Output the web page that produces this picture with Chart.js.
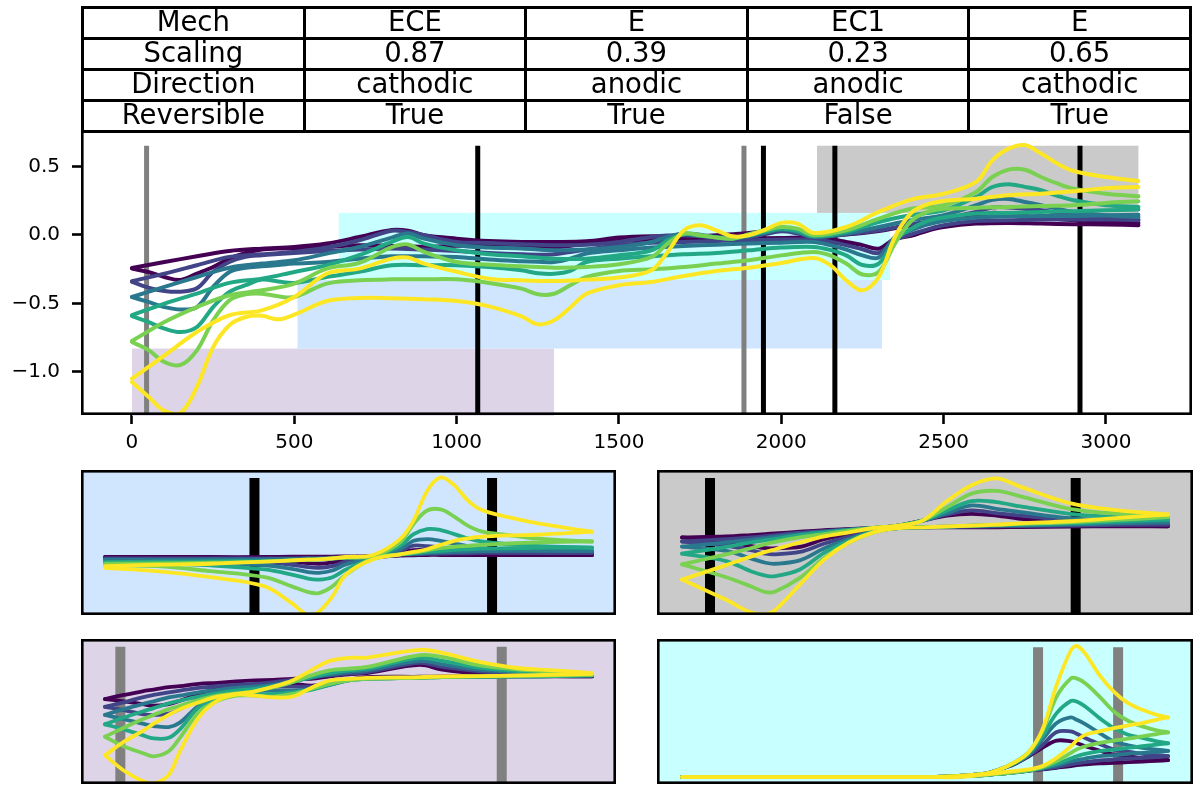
<!DOCTYPE html>
<html>
<head>
<meta charset="utf-8">
<title>Voltammograms</title>
<script src="https://cdn.jsdelivr.net/npm/chart.js@4/dist/chart.umd.min.js"></script>
<style>
    html, body { margin: 0; padding: 0; background: #fff; width: 1200px; height: 800px; overflow: hidden; }
    canvas { position: absolute; display: block; }
    #mechTable {
        position: absolute; left: 81px; top: 6px; width: 1111px; height: 125px;
        border-collapse: collapse; table-layout: fixed;
        font-family: "DejaVu Sans"; font-size: 27.5px; color: #000;
    }
    #mechTable td { border: 3px solid #000; text-align: center; padding: 0 0 3px 0; height: 25px; line-height: 25px; overflow: hidden; }
</style>
</head>
<body>
<canvas id="mainChart" width="1200" height="350" style="left:0;top:120px"></canvas>
<table id="mechTable"></table>
<canvas id="blueChart" width="535" height="145" style="left:81px;top:470px"></canvas>
<canvas id="grayChart" width="536" height="145" style="left:657px;top:470px"></canvas>
<canvas id="purpleChart" width="535" height="145" style="left:81px;top:639px"></canvas>
<canvas id="cyanChart" width="536" height="145" style="left:657px;top:639px"></canvas>
<script>
// table
const tableRows = [
    ['Mech', 'ECE', 'E', 'EC1', 'E'],
    ['Scaling', '0.87', '0.39', '0.23', '0.65'],
    ['Direction', 'cathodic', 'anodic', 'anodic', 'cathodic'],
    ['Reversible', 'True', 'True', 'False', 'True']
];

// one colour per scan rate
const seriesColors = ['#440154', '#414487', '#2a788e', '#22a884', '#7ad151', '#fde725'];

const xTicks = [0, 500, 1000, 1500, 2000, 2500, 3000];
const xTickLabels = ['0', '500', '1000', '1500', '2000', '2500', '3000'];
const yTicks = [-1, -0.5, 0, 0.5];
const yTickLabels = ['\u22121.0', '\u22120.5', '0.0', '0.5'];

// main plot, outward and return branch of each scan rate
const mainUpX = [0,100,200,300,400,500,600,700,800,850,900,1000,1100,1200,1300,1400,1500,1600,1650,1700,1750,1800,1850,1900,1950,2000,2050,2100,2200,2300,2400,2500,2600,2650,2700,2750,2800,2850,2900,3000,3100];
const mainLowX = [0,50,100,150,200,250,300,350,400,450,500,600,700,800,900,1000,1100,1200,1250,1300,1350,1400,1500,1600,1700,1800,1900,2000,2100,2150,2200,2250,2300,2350,2400,2450,2500,2600,2700,2800,2900,3000,3100];
const mainUp = [
    [-.242,-.198,-.157,-.118,-.101,-.089,-.064,-.016,.035,.03,-.003,-.028,-.045,-.052,-.052,-.047,-.02,-.01,-.012,-.016,-.01,-.003,.005,.014,.026,.038,.025,-.01,.002,.028,.07,.106,.135,.16,.15,.14,.126,.115,.106,.094,.087],
    [-.339,-.283,-.222,-.161,-.142,-.125,-.093,-.04,.03,.02,-.003,-.052,-.06,-.069,-.076,-.072,-.052,-.016,-.005,-.003,-.01,-.02,-.02,-.016,.005,.026,.01,-.016,.004,.033,.077,.118,.167,.2,.2,.19,.179,.16,.143,.118,.106],
    [-.454,-.38,-.308,-.24,-.21,-.186,-.137,-.089,-.02,.009,-.028,-.076,-.093,-.1,-.113,-.108,-.089,-.052,-.015,.009,0,-.016,-.02,-.01,.015,.038,.02,-.016,.009,.057,.106,.143,.216,.255,.262,.24,.216,.19,.167,.143,.13],
    [-.587,-.502,-.429,-.351,-.32,-.271,-.222,-.149,-.052,-.016,-.064,-.113,-.142,-.157,-.174,-.174,-.149,-.113,-.04,.004,-.006,-.02,-.028,-.003,.022,.045,.03,-.01,.02,.094,.143,.179,.276,.349,.369,.35,.325,.285,.252,.216,.203],
    [-.775,-.636,-.527,-.441,-.405,-.356,-.247,-.205,-.09,-.07,-.125,-.198,-.218,-.23,-.24,-.235,-.215,-.162,-.064,.009,-.003,-.02,-.028,.004,.033,.057,.045,-.003,.033,.118,.19,.216,.313,.422,.476,.475,.422,.375,.337,.30,.281],
    [-1.05,-.88,-.709,-.587,-.551,-.454,-.283,-.247,-.174,-.166,-.21,-.27,-.32,-.332,-.337,-.327,-.312,-.259,-.125,.033,.07,.033,-.011,-.003,.038,.087,.082,.014,.057,.167,.257,.30,.386,.544,.629,.655,.593,.52,.466,.422,.393]
];
const mainLow = [
    [-.247,-.271,-.308,-.33,-.283,-.235,-.174,-.132,-.108,-.1,-.1,-.089,-.076,-.081,-.087,-.08,-.076,-.089,-.092,-.093,-.08,-.064,-.045,-.035,-.035,-.033,-.028,-.023,-.02,-.03,-.052,-.075,-.101,-.03,-.008,.03,.057,.082,.087,.082,.078,.075,.07],
    [-.344,-.385,-.41,-.415,-.39,-.27,-.198,-.161,-.149,-.14,-.132,-.118,-.108,-.1,-.108,-.118,-.132,-.142,-.145,-.142,-.125,-.108,-.076,-.057,-.052,-.045,-.04,-.035,-.035,-.05,-.076,-.105,-.132,-.04,.004,.04,.07,.101,.106,.111,.111,.111,.111],
    [-.454,-.49,-.527,-.545,-.527,-.38,-.271,-.24,-.23,-.22,-.21,-.198,-.174,-.157,-.157,-.161,-.181,-.193,-.197,-.198,-.174,-.137,-.113,-.093,-.081,-.072,-.064,-.057,-.052,-.075,-.108,-.15,-.165,-.016,.033,.075,.101,.126,.135,.138,.138,.143,.147],
    [-.594,-.636,-.685,-.71,-.673,-.527,-.417,-.368,-.327,-.34,-.351,-.308,-.27,-.222,-.222,-.222,-.235,-.259,-.28,-.285,-.264,-.198,-.174,-.157,-.142,-.132,-.113,-.093,-.088,-.11,-.15,-.22,-.21,-.04,.045,.1,.126,.155,.16,.167,.172,.179,.184],
    [-.782,-.84,-.928,-.95,-.843,-.624,-.478,-.434,-.43,-.449,-.454,-.356,-.332,-.325,-.325,-.325,-.351,-.393,-.434,-.43,-.368,-.308,-.264,-.252,-.235,-.21,-.186,-.15,-.125,-.15,-.21,-.29,-.271,-.064,.101,.167,.19,.198,.203,.21,.216,.233,.245],
    [-1.074,-1.18,-1.285,-1.3,-1.11,-.82,-.66,-.60,-.59,-.617,-.583,-.483,-.461,-.463,-.47,-.483,-.522,-.595,-.653,-.624,-.53,-.43,-.368,-.344,-.30,-.264,-.24,-.205,-.169,-.22,-.332,-.405,-.308,-.016,.16,.223,.247,.264,.289,.30,.318,.34,.349]
];

// shaded windows on the main plot
const bandColors = ['#ddd4e8', '#d0e6ff', '#c8ffff', '#cacaca'];
const bandXStart = [0, 510, 637, 2110];
const bandXEnd = [1300, 2310, 2335, 3100];
const bandYLow = [-1.32, -0.83, -0.33, 0.16];
const bandYHigh = [-0.83, -0.33, 0.16, 0.65];

const mainBlackLines = [1065, 1945, 2165, 2920];
const mainGreyLines = [45, 1885];

// lower left panels and right panels, normalised current
const blueX = [510,700,900,1100,1200,1260,1300,1350,1400,1500,1600,1650,1700,1750,1800,1850,1900,2000,2100,2200,2310];
const blueUp = [
    [1.72,1.72,1.72,1.72,1.73,1.73,1.73,1.73,1.74,1.75,1.86,1.92,1.94,1.90,1.86,1.82,1.80,1.79,1.78,1.78,1.78],
    [1.68,1.68,1.68,1.68,1.68,1.69,1.69,1.70,1.71,1.73,1.90,2.06,2.04,2.00,1.94,1.90,1.87,1.85,1.84,1.84,1.84],
    [1.64,1.64,1.65,1.65,1.66,1.66,1.67,1.68,1.70,1.73,1.95,2.20,2.25,2.20,2.12,2.04,1.98,1.94,1.92,1.91,1.90],
    [1.57,1.58,1.59,1.60,1.62,1.64,1.65,1.68,1.70,1.74,2.05,2.40,2.55,2.52,2.40,2.27,2.18,2.10,2.05,2.02,2.00],
    [1.52,1.53,1.55,1.58,1.62,1.64,1.65,1.68,1.70,1.75,2.15,2.70,3.10,3.13,2.92,2.65,2.48,2.37,2.27,2.22,2.18],
    [1.45,1.49,1.52,1.58,1.62,1.64,1.65,1.68,1.72,1.78,2.25,2.80,3.68,4.08,3.85,3.40,3.12,2.90,2.73,2.60,2.47]
];
const blueLow = [
    [1.72,1.70,1.67,1.63,1.58,1.54,1.52,1.56,1.65,1.72,1.76,1.77,1.78,1.78,1.78,1.78,1.78,1.78,1.78,1.78,1.78],
    [1.67,1.65,1.62,1.56,1.49,1.42,1.40,1.45,1.58,1.70,1.78,1.80,1.81,1.82,1.83,1.83,1.84,1.84,1.84,1.84,1.84],
    [1.62,1.60,1.55,1.47,1.37,1.27,1.25,1.32,1.50,1.68,1.80,1.82,1.84,1.86,1.87,1.88,1.89,1.90,1.90,1.90,1.90],
    [1.55,1.53,1.47,1.35,1.20,1.08,1.05,1.12,1.35,1.68,1.80,1.83,1.87,1.90,1.93,1.95,1.97,1.98,1.99,2.00,2.00],
    [1.47,1.45,1.30,1.12,.85,.68,.65,.85,1.20,1.68,1.80,1.85,1.92,1.98,2.02,2.05,2.08,2.12,2.15,2.17,2.18],
    [1.40,1.30,1.12,.85,.35,-.01,.10,.55,1.20,1.65,1.80,1.87,1.95,2.08,2.20,2.27,2.32,2.36,2.38,2.42,2.47]
];

const grayX = [2110,2200,2250,2280,2300,2350,2400,2450,2500,2550,2600,2650,2700,2750,2800,2900,3000,3100];
const grayUp = [
    [2.30,2.33,2.37,2.40,2.42,2.47,2.52,2.55,2.58,2.65,2.80,2.95,3.00,2.95,2.85,2.72,2.65,2.63],
    [2.18,2.25,2.30,2.34,2.37,2.44,2.49,2.54,2.58,2.65,2.80,2.98,3.10,3.02,2.95,2.80,2.73,2.68],
    [2.03,2.15,2.23,2.28,2.32,2.40,2.47,2.53,2.58,2.65,2.80,3.02,3.25,3.15,3.05,2.87,2.80,2.75],
    [1.82,2.02,2.15,2.22,2.25,2.37,2.45,2.52,2.58,2.65,2.80,3.10,3.38,3.35,3.22,3.00,2.90,2.83],
    [1.50,1.80,1.98,2.10,2.17,2.30,2.40,2.50,2.58,2.65,2.80,3.20,3.60,3.68,3.52,3.15,3.00,2.90],
    [1.05,1.48,1.73,1.87,1.95,2.15,2.33,2.45,2.58,2.65,2.80,3.38,3.85,4.05,3.80,3.32,3.10,2.98]
];
const grayLow = [
    [2.30,2.15,2.05,1.98,1.98,2.02,2.25,2.40,2.52,2.58,2.60,2.60,2.60,2.60,2.61,2.62,2.63,2.63],
    [2.18,2.05,1.92,1.82,1.80,1.87,2.12,2.32,2.50,2.58,2.60,2.61,2.62,2.63,2.64,2.65,2.67,2.68],
    [2.03,1.90,1.68,1.55,1.52,1.62,1.98,2.25,2.48,2.58,2.60,2.62,2.64,2.65,2.66,2.68,2.72,2.75],
    [1.82,1.60,1.30,1.17,1.15,1.35,1.85,2.20,2.47,2.58,2.60,2.62,2.65,2.67,2.68,2.72,2.77,2.83],
    [1.50,1.12,.85,.68,.70,1.10,1.70,2.15,2.45,2.58,2.60,2.62,2.65,2.67,2.70,2.75,2.82,2.90],
    [1.05,.45,.08,.02,.15,.90,1.65,2.15,2.45,2.58,2.60,2.63,2.65,2.68,2.72,2.78,2.88,2.98]
];

const purpleX = [0,50,100,130,170,200,250,300,350,400,450,500,550,600,650,700,840,900,1000,1100,1200,1300];
const purpleUp = [
    [2.52,2.64,2.75,2.80,2.87,2.90,2.97,3.00,3.04,3.07,3.09,3.12,3.12,3.19,3.25,3.29,3.53,3.39,3.27,3.22,3.20,3.19],
    [2.29,2.42,2.57,2.64,2.72,2.77,2.85,2.90,2.94,2.97,3.02,3.09,3.17,3.22,3.27,3.32,3.59,3.47,3.34,3.27,3.24,3.22],
    [2.05,2.22,2.37,2.45,2.57,2.62,2.72,2.79,2.85,2.89,2.95,3.05,3.15,3.25,3.32,3.37,3.65,3.55,3.39,3.32,3.27,3.22],
    [1.77,1.97,2.15,2.25,2.39,2.47,2.59,2.69,2.77,2.82,2.90,3.02,3.17,3.29,3.37,3.42,3.74,3.65,3.45,3.35,3.29,3.22],
    [1.40,1.67,1.92,2.05,2.22,2.32,2.49,2.62,2.69,2.75,2.87,3.02,3.22,3.37,3.42,3.47,3.82,3.77,3.52,3.40,3.32,3.24],
    [.85,1.25,1.57,1.79,2.05,2.22,2.42,2.59,2.67,2.75,2.89,3.07,3.37,3.65,3.74,3.75,3.98,3.89,3.62,3.44,3.37,3.29]
];
const purpleLow = [
    [2.52,2.45,2.37,2.32,2.37,2.47,2.67,2.82,2.89,2.94,2.97,2.97,2.92,2.97,3.09,3.17,3.18,3.19,3.19,3.19,3.19,3.19],
    [2.29,2.19,2.07,2.04,2.09,2.22,2.52,2.72,2.82,2.87,2.89,2.89,2.89,2.97,3.09,3.15,3.17,3.17,3.18,3.19,3.20,3.22],
    [2.05,1.92,1.79,1.72,1.69,1.82,2.32,2.57,2.70,2.75,2.77,2.77,2.82,2.94,3.07,3.12,3.15,3.17,3.18,3.19,3.20,3.22],
    [1.77,1.62,1.45,1.35,1.37,1.62,2.27,2.52,2.65,2.65,2.67,2.72,2.79,2.94,3.07,3.12,3.15,3.17,3.18,3.19,3.20,3.22],
    [1.40,1.12,.92,.82,.97,1.37,2.12,2.47,2.62,2.62,2.59,2.67,2.82,2.97,3.07,3.12,3.15,3.17,3.19,3.20,3.22,3.24],
    [.85,.40,.09,.02,.27,.97,1.97,2.47,2.65,2.62,2.57,2.59,2.85,3.07,3.12,3.15,3.17,3.19,3.20,3.22,3.24,3.27]
];

const cyanX = [640,1000,1200,1400,1500,1600,1700,1750,1800,1850,1900,1950,2000,2020,2050,2100,2150,2200,2250,2300,2340];
const cyanUp = [
    [.09,.09,.09,.09,.09,.12,.19,.32,.47,.70,.97,1.19,1.17,1.12,1.02,.89,.77,.72,.67,.63,.60],
    [.09,.09,.09,.09,.09,.12,.19,.32,.48,.72,1.05,1.45,1.47,1.40,1.27,1.09,.92,.85,.79,.75,.72],
    [.09,.09,.09,.09,.09,.12,.19,.32,.49,.75,1.22,1.72,1.89,1.82,1.69,1.42,1.17,1.05,.97,.92,.88],
    [.09,.09,.09,.09,.09,.12,.19,.32,.50,.78,1.32,2.02,2.39,2.37,2.22,1.87,1.57,1.37,1.27,1.17,1.11],
    [.09,.09,.09,.09,.09,.12,.19,.32,.52,.82,1.47,2.52,3.07,3.07,2.92,2.52,2.07,1.79,1.62,1.50,1.44],
    [.09,.09,.09,.09,.09,.12,.19,.32,.52,.82,1.52,2.87,3.92,4.05,3.82,3.17,2.67,2.32,2.12,1.97,1.89]
];
const cyanLow = [
    [.09,.09,.09,.09,.09,.11,.15,.19,.23,.28,.32,.37,.42,.45,.47,.50,.52,.54,.56,.58,.60],
    [.09,.09,.09,.09,.09,.11,.15,.19,.23,.28,.33,.39,.47,.50,.54,.59,.62,.65,.67,.69,.72],
    [.09,.09,.09,.09,.09,.11,.15,.19,.23,.28,.35,.44,.57,.60,.65,.72,.75,.79,.82,.85,.88],
    [.09,.09,.09,.09,.09,.11,.15,.19,.23,.29,.37,.49,.65,.72,.79,.87,.92,.97,1.02,1.07,1.11],
    [.09,.09,.09,.09,.09,.11,.15,.19,.23,.29,.39,.57,.82,.92,1.02,1.12,1.19,1.25,1.32,1.39,1.44],
    [.09,.09,.09,.09,.09,.09,.17,.22,.27,.32,.42,.67,1.02,1.19,1.37,1.47,1.57,1.65,1.72,1.82,1.89]
];

const blueLines = [1062, 1940];
const grayLines = [2167, 2912];
const purpleLines = [41, 1059];
const cyanLines = [1885, 2165];

// fill behind the curves and frame on top
const panelDecor = {
    id: 'panelDecor',
    beforeDatasetsDraw(chart, args, opts) {
        const { ctx, chartArea: a, scales: { x, y } } = chart;
        ctx.save();
        if (opts.background) {
            ctx.fillStyle = opts.background;
            ctx.fillRect(a.left, a.top, a.width, a.height);
        }
        if (opts.bands) {
            for (let i = 0; i < bandColors.length; i++) {
                const left = x.getPixelForValue(bandXStart[i]);
                const right = x.getPixelForValue(bandXEnd[i]);
                const top = y.getPixelForValue(bandYHigh[i]);
                const bottom = y.getPixelForValue(bandYLow[i]);
                ctx.fillStyle = bandColors[i];
                ctx.fillRect(left, top, right - left, bottom - top);
            }
        }
        ctx.restore();
    },
    afterDatasetsDraw(chart) {
        const { ctx, chartArea: a } = chart;
        ctx.save();
        ctx.strokeStyle = '#000';
        ctx.lineWidth = 2.6;
        ctx.strokeRect(a.left + 1.3, a.top + 1.3, a.width - 2.6, a.height - 2.6);
        ctx.restore();
    }
};

function pairs(xs, ys) {
    return ys.map((v, i) => ({ x: xs[i], y: v }));
}

function vLine(x, low, high, color, width) {
    return {
        data: [{ x: x, y: low }, { x: x, y: high }],
        borderColor: color, borderWidth: width, pointRadius: 0, order: 100, borderCapStyle: 'butt'
    };
}

function curveSets(upX, up, lowX, low, width) {
    const sets = [];
    seriesColors.forEach((color, i) => {
        [pairs(upX, up[i]), pairs(lowX, low[i])].forEach(d => {
            sets.push({
                data: d, borderColor: color, borderWidth: width, pointRadius: 0,
                tension: 0.35, borderJoinStyle: 'round', borderCapStyle: 'round',
                order: 10 - i
            });
        });
    });
    return sets;
}

function baseOptions() {
    return {
        responsive: false,
        animation: false,
        events: [],
        plugins: { legend: { display: false }, tooltip: { enabled: false } }
    };
}

function makePanel(id, background, xMin, xMax, yMin, yMax, lineTop, lines, lineColor, upX, up, lowX, low) {
    const options = baseOptions();
    options.plugins.panelDecor = { background: background };
    options.layout = { padding: 0 };
    options.scales = {
        x: { type: 'linear', min: xMin, max: xMax, display: false },
        y: { type: 'linear', min: yMin, max: yMax, display: false }
    };
    const sets = lines.map(v => vLine(v, yMin, lineTop, lineColor, 10)).concat(curveSets(upX, up, lowX, low, 3.8));
    new Chart(document.getElementById(id), {
        type: 'line',
        data: { datasets: sets },
        options: options,
        plugins: [panelDecor]
    });
}

document.getElementById('mechTable').innerHTML = tableRows
    .map(row => '<tr>' + row.map(cell => '<td>' + cell + '</td>').join('') + '</tr>').join('');

Chart.defaults.font.family = '"DejaVu Sans"';
Chart.defaults.color = '#000';

const mainOptions = baseOptions();
mainOptions.plugins.panelDecor = { bands: true };
mainOptions.layout = { padding: { top: 10, right: 8, left: 0, bottom: 0 } };
mainOptions.scales = {
    x: {
        type: 'linear', min: -157, max: 3265,
        afterBuildTicks: s => { s.ticks = xTicks.map(v => ({ value: v })); },
        afterFit: s => { s.height = 55; s.paddingLeft = 0; s.paddingRight = 0; },
        grid: { drawOnChartArea: false, tickLength: 9, tickColor: '#000', tickWidth: 2.6 },
        border: { display: false },
        ticks: {
            font: { size: 20 }, color: '#000', maxRotation: 0, autoSkip: false, padding: 7,
            callback: v => xTickLabels[xTicks.indexOf(v)]
        }
    },
    y: {
        type: 'linear', min: -1.315, max: 0.765,
        afterBuildTicks: s => { s.ticks = yTicks.map(v => ({ value: v })); },
        afterFit: s => { s.width = 81; s.paddingTop = 0; s.paddingBottom = 0; },
        grid: { drawOnChartArea: false, tickLength: 9, tickColor: '#000', tickWidth: 2.6 },
        border: { display: false },
        ticks: {
            font: { size: 20 }, color: '#000', autoSkip: false, padding: 12,
            callback: v => yTickLabels[yTicks.indexOf(v)]
        }
    }
};

const mainSets = mainBlackLines.map(v => vLine(v, -1.32, 0.65, '#000', 5))
    .concat(mainGreyLines.map(v => vLine(v, -1.32, 0.65, '#808080', 5)))
    .concat(curveSets(mainUpX, mainUp, mainLowX, mainLow, 4));

new Chart(document.getElementById('mainChart'), {
    type: 'line',
    data: { datasets: mainSets },
    options: mainOptions,
    plugins: [panelDecor]
});

makePanel('blueChart', '#d0e6ff', 421, 2398, 0, 4.3, 4.06, blueLines, '#000', blueX, blueUp, blueX, blueLow);
makePanel('grayChart', '#cacaca', 2059, 3151, 0, 4.3, 4.06, grayLines, '#000', grayX, grayUp, grayX, grayLow);
makePanel('purpleChart', '#ddd4e8', -64, 1364, 0, 4.3, 4.07, purpleLines, '#808080', purpleX, purpleUp, purpleX, purpleLow);
makePanel('cyanChart', '#c8ffff', 552, 2427, -.12, 4.26, 4.01, cyanLines, '#808080', cyanX, cyanUp, cyanX, cyanLow);
</script>
</body>
</html>
